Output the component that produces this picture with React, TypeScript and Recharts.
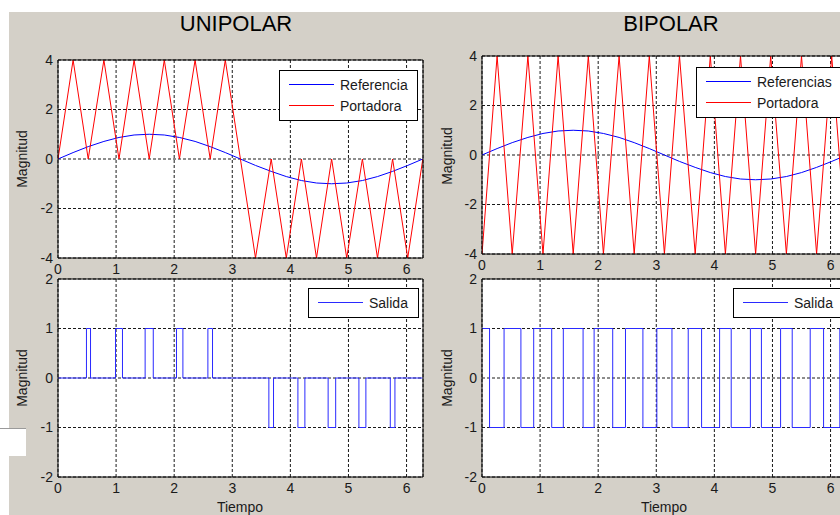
import React from 'react';
import { LineChart, Line, XAxis, YAxis, CartesianGrid } from 'recharts';

// time axis (vertices of the triangle carrier, also used for the reference sine)
const carrierT = [0, 0.26, 0.52, 0.79, 1.05, 1.31, 1.57, 1.83, 2.09, 2.36, 2.62, 2.88, 3.14, 3.4, 3.67, 3.93, 4.19, 4.45, 4.71, 4.97, 5.24, 5.5, 5.76, 6.02, 6.28];
const referenceV = [0, 0.26, 0.5, 0.71, 0.87, 0.97, 1, 0.97, 0.87, 0.71, 0.5, 0.26, 0, -0.26, -0.5, -0.71, -0.87, -0.97, -1, -0.97, -0.87, -0.71, -0.5, -0.26, 0];
const uniCarrierV = [0, 4, 0, 4, 0, 4, 0, 4, 0, 4, 0, 4, 0, -4, 0, -4, 0, -4, 0, -4, 0, -4, 0, -4, 0];
const bipCarrierV = [-4, 4, -4, 4, -4, 4, -4, 4, -4, 4, -4, 4, -4, 4, -4, 4, -4, 4, -4, 4, -4, 4, -4, 4, -4];

// switching instants of the PWM outputs
const uniSwitchT = [0, 0.49, 0.56, 0.99, 1.11, 1.5, 1.64, 2.04, 2.15, 2.58, 2.66, 3.63, 3.71, 4.13, 4.25, 4.65, 4.78, 5.18, 5.3, 5.72, 5.8, 6.28];
const uniSwitchV = [0, 1, 0, 1, 0, 1, 0, 1, 0, 1, 0, -1, 0, -1, 0, -1, 0, -1, 0, -1, 0, 0];
const bipSwitchT = [0, 0.13, 0.38, 0.67, 0.89, 1.2, 1.4, 1.74, 1.93, 2.25, 2.47, 2.77, 3.01, 3.27, 3.55, 3.78, 4.09, 4.29, 4.62, 4.81, 5.14, 5.34, 5.65, 5.88, 6.16, 6.28];
const bipSwitchV = [1, -1, 1, -1, 1, -1, 1, -1, 1, -1, 1, -1, 1, -1, 1, -1, 1, -1, 1, -1, 1, -1, 1, -1, 1, 1];

const xTicks = [0, 1, 2, 3, 4, 5, 6];
const carrierTicks = [-4, -2, 0, 2, 4];
const outputTicks = [-2, -1, 0, 1, 2];

const toPoints = (ts: number[], vs: number[]) => ts.map((t, i) => ({ t, v: vs[i] }));

const FONT = '"Liberation Sans", Arial, sans-serif';
const X_MAX = 6.2832;

type Series = { name: string; color: string; points: { t: number; v: number }[]; step?: boolean };

function Panel(props: { x: number; y: number; w: number; h: number; yDomain: number[]; yTicks: number[]; series: Series[] }) {
  const { x, y, w, h, yDomain, yTicks, series } = props;
  const ml = 40, mt = 10, mr = 10, xh = 30;
  const tickFont = { fontSize: 14, fill: '#1a1a1a', fontFamily: FONT };
  return (
    <div style={{ position: 'absolute', left: x - ml, top: y - mt }}>
      <LineChart width={ml + w + mr} height={mt + h + xh} margin={{ top: mt, right: mr, bottom: 0, left: 0 }}>
        <CartesianGrid stroke="#1a1a1a" strokeDasharray="3 2" fill="#fff" fillOpacity={1} />
        <XAxis dataKey="t" type="number" domain={[0, X_MAX]} ticks={xTicks} interval={0} allowDataOverflow
          height={xh} tickLine={false} tickSize={4} tickMargin={2} axisLine={{ stroke: '#000' }} tick={tickFont} />
        <XAxis xAxisId="top" orientation="top" mirror dataKey="t" type="number" domain={[0, X_MAX]} ticks={xTicks}
          interval={0} allowDataOverflow tick={false} tickSize={4} tickLine={{ stroke: '#000' }} axisLine={{ stroke: '#000' }} />
        <XAxis xAxisId="in" orientation="bottom" mirror dataKey="t" type="number" domain={[0, X_MAX]} ticks={xTicks}
          interval={0} allowDataOverflow tick={false} tickSize={4} tickLine={{ stroke: '#000' }} axisLine={false} />
        <YAxis type="number" domain={yDomain} ticks={yTicks} interval={0} allowDataOverflow width={ml}
          tickLine={false} tickSize={3} tickMargin={2} axisLine={{ stroke: '#000' }} tick={tickFont} />
        <YAxis yAxisId="right" orientation="right" mirror type="number" domain={yDomain} ticks={yTicks} interval={0}
          allowDataOverflow tick={false} tickSize={4} tickLine={{ stroke: '#000' }} axisLine={{ stroke: '#000' }} />
        <YAxis yAxisId="in" orientation="left" mirror type="number" domain={yDomain} ticks={yTicks} interval={0}
          allowDataOverflow tick={false} tickSize={4} tickLine={{ stroke: '#000' }} axisLine={false} />
        {series.map((s) => (
          <Line key={s.name} data={s.points} dataKey="v" name={s.name} type={s.step ? 'stepAfter' : 'linear'}
            stroke={s.color} strokeWidth={1} dot={false} activeDot={false} isAnimationActive={false} />
        ))}
      </LineChart>
    </div>
  );
}

function LegendBox(props: { x: number; y: number; w: number; items: Series[] }) {
  const { x, y, w, items } = props;
  return (
    <div style={{ position: 'absolute', left: x, top: y, width: w, border: '1px solid #000', background: '#fff',
      padding: '3px 0 4px 0', fontFamily: FONT, fontSize: 14, color: '#1a1a1a' }}>
      {items.map((s) => (
        <div key={s.name} style={{ display: 'flex', alignItems: 'center', height: 21, paddingLeft: 9 }}>
          <span style={{ display: 'inline-block', width: 45, height: 0, borderTop: `1px solid ${s.color}`, marginRight: 6 }} />
          <span>{s.name}</span>
        </div>
      ))}
    </div>
  );
}

function Title(props: { cx: number; text: string }) {
  return (
    <div style={{ position: 'absolute', left: props.cx - 100, top: 13, width: 200, textAlign: 'center',
      fontFamily: FONT, fontSize: 22, lineHeight: '22px', color: '#000' }}>{props.text}</div>
  );
}

function VLabel(props: { cx: number; cy: number; text: string }) {
  return (
    <div style={{ position: 'absolute', left: props.cx - 50, top: props.cy - 7, width: 100, height: 14,
      textAlign: 'center', fontFamily: FONT, fontSize: 14, lineHeight: '14px', color: '#1a1a1a',
      transform: 'rotate(-90deg)' }}>{props.text}</div>
  );
}

function HLabel(props: { cx: number; top: number; text: string }) {
  return (
    <div style={{ position: 'absolute', left: props.cx - 50, top: props.top, width: 100, textAlign: 'center',
      fontFamily: FONT, fontSize: 14, lineHeight: '14px', color: '#1a1a1a' }}>{props.text}</div>
  );
}

export default function App() {
  const ref = toPoints(carrierT, referenceV);
  const uniTop: Series[] = [
    { name: 'Referencia', color: '#0000ff', points: ref },
    { name: 'Portadora', color: '#ff0000', points: toPoints(carrierT, uniCarrierV) },
  ];
  const bipTop: Series[] = [
    { name: 'Referencias', color: '#0000ff', points: ref },
    { name: 'Portadora', color: '#ff0000', points: toPoints(carrierT, bipCarrierV) },
  ];
  const uniOut: Series[] = [{ name: 'Salida', color: '#2a2aff', points: toPoints(uniSwitchT, uniSwitchV), step: true }];
  const bipOut: Series[] = [{ name: 'Salida', color: '#2a2aff', points: toPoints(bipSwitchT, bipSwitchV), step: true }];

  return (
    <div style={{ position: 'absolute', left: 0, top: 0, width: 840, height: 515, overflow: 'hidden', background: '#fff' }}>
      <div style={{ position: 'absolute', left: 9, top: 12, right: 0, bottom: 0, background: '#d4d0c8' }} />
      <div style={{ position: 'absolute', left: 0, top: 428, width: 26, height: 27, background: '#fff', borderTop: '1px solid #9a9a9a' }} />

      <Panel x={58} y={60} w={365} h={198} yDomain={[-4, 4]} yTicks={carrierTicks} series={uniTop} />
      <Panel x={482} y={56} w={365} h={198} yDomain={[-4, 4]} yTicks={carrierTicks} series={bipTop} />
      <Panel x={58} y={279} w={365} h={198} yDomain={[-2, 2]} yTicks={outputTicks} series={uniOut} />
      <Panel x={482} y={279} w={365} h={198} yDomain={[-2, 2]} yTicks={outputTicks} series={bipOut} />

      <LegendBox x={279} y={70} w={137} items={uniTop} />
      <LegendBox x={696} y={67} w={150} items={bipTop} />
      <LegendBox x={308} y={288} w={109} items={uniOut} />
      <LegendBox x={733} y={288} w={120} items={bipOut} />

      <Title cx={236} text="UNIPOLAR" />
      <Title cx={671} text="BIPOLAR" />
      <VLabel cx={22} cy={159} text="Magnitud" />
      <VLabel cx={447} cy={156} text="Magnitud" />
      <VLabel cx={22} cy={378} text="Magnitud" />
      <VLabel cx={447} cy={378} text="Magnitud" />
      <HLabel cx={240} top={500} text="Tiempo" />
      <HLabel cx={664} top={500} text="Tiempo" />
    </div>
  );
}
